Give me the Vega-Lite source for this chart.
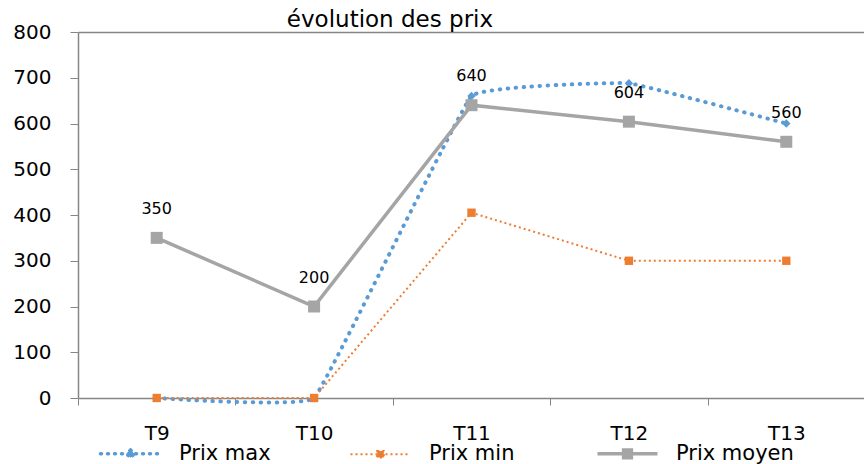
{
  "$schema": "https://vega.github.io/schema/vega-lite/v6.json",
  "autosize": {"type": "none"},
  "width": 787,
  "height": 366,
  "padding": {"left": 78, "top": 32, "right": 0, "bottom": 66},
  "background": "white",
  "config": {
    "font": "DejaVu Sans",
    "view": {"stroke": null},
    "axis": {"labelColor": "black", "domainColor": "#868686", "tickColor": "#868686", "labelFont": "DejaVu Sans"}
  },
  "title": {
    "text": "évolution des prix",
    "anchor": "start",
    "dx": 274,
    "dy": 31,
    "fontSize": 23,
    "fontWeight": "normal",
    "color": "black",
    "font": "DejaVu Sans",
    "baseline": "alphabetic",
    "offset": 3
  },
  "data": {
    "values": [
      {"t": "T9", "serie": "Prix max", "v": 0},
      {"t": "T10", "serie": "Prix max", "v": 0},
      {"t": "T11", "serie": "Prix max", "v": 660},
      {"t": "T12", "serie": "Prix max", "v": 688},
      {"t": "T13", "serie": "Prix max", "v": 600},
      {"t": "T9", "serie": "Prix min", "v": 0},
      {"t": "T10", "serie": "Prix min", "v": 0},
      {"t": "T11", "serie": "Prix min", "v": 405},
      {"t": "T12", "serie": "Prix min", "v": 300},
      {"t": "T13", "serie": "Prix min", "v": 300},
      {"t": "T9", "serie": "Prix moyen", "v": 350},
      {"t": "T10", "serie": "Prix moyen", "v": 200},
      {"t": "T11", "serie": "Prix moyen", "v": 640},
      {"t": "T12", "serie": "Prix moyen", "v": 604},
      {"t": "T13", "serie": "Prix moyen", "v": 560}
    ]
  },
  "encoding": {
    "x": {
      "field": "t", "type": "nominal", "sort": ["T9", "T10", "T11", "T12", "T13"],
      "scale": {"type": "band", "paddingInner": 0, "paddingOuter": 0},
      "axis": {"title": null, "labelAngle": 0, "tickBand": "extent", "tickSize": 7, "labelFontSize": 20, "labelPadding": 18, "domainWidth": 1.5}
    },
    "y": {
      "field": "v", "type": "quantitative",
      "scale": {"domain": [0, 800], "nice": false},
      "axis": {
        "title": null, "values": [0, 100, 200, 300, 400, 500, 600, 700, 800],
        "labelFontSize": 20, "tickSize": 8, "labelPadding": 19, "domainWidth": 1.5,
        "grid": true,
        "gridColor": {"condition": {"test": "datum.value === 800", "value": "#868686"}, "value": "transparent"},
        "gridWidth": 1.5
      }
    },
    "color": {
      "field": "serie", "type": "nominal",
      "scale": {"domain": ["Prix max", "Prix min", "Prix moyen"], "range": ["#5B9BD5", "#ED7D31", "#A5A5A5"]},
      "legend": {
        "title": null, "orient": "none", "legendX": 42, "legendY": 411,
        "direction": "horizontal", "gridAlign": "each", "columnPadding": 75,
        "labelFontSize": 21, "labelColor": "black", "labelOffset": 38,
        "symbolSize": 3600, "symbolStrokeWidth": 3,
        "encode": {
          "symbols": {
            "update": {
              "shape": {"signal": "datum.value === 'Prix max' ? 'M-1,0H1M0,-0.13L0.13,0L0,0.13L-0.13,0Z' : datum.value === 'Prix min' ? 'M-1,0H1M-0.11,-0.11H0.11V0.11H-0.11Z' : 'M-1,0H1M-0.13,-0.13H0.13V0.13H-0.13Z'"},
              "fill": {"scale": "color", "field": "value"},
              "strokeDash": {"signal": "datum.value === 'Prix max' ? [1, 6] : datum.value === 'Prix min' ? [2, 3] : [1, 0]"},
              "strokeCap": {"signal": "datum.value === 'Prix max' ? 'round' : 'butt'"},
              "strokeWidth": {"signal": "datum.value === 'Prix min' ? 2 : 3.5"}
            }
          }
        }
      }
    }
  },
  "layer": [
    {
      "transform": [{"filter": "datum.serie === 'Prix max'"}],
      "mark": {"type": "line", "interpolate": "cardinal", "tension": 0.8, "strokeDash": [0.5, 7.5], "strokeCap": "round", "strokeWidth": 4,
               "point": {"shape": "diamond", "filled": true, "size": 70, "opacity": 1}}
    },
    {
      "transform": [{"filter": "datum.serie === 'Prix min'"}],
      "mark": {"type": "line", "strokeDash": [2, 3], "strokeWidth": 2,
               "point": {"shape": "square", "filled": true, "size": 70, "opacity": 1}}
    },
    {
      "transform": [{"filter": "datum.serie === 'Prix moyen'"}],
      "mark": {"type": "line", "strokeWidth": 3.5,
               "point": {"shape": "square", "filled": true, "size": 144, "opacity": 1}}
    },
    {
      "transform": [{"filter": "datum.serie === 'Prix moyen'"}],
      "mark": {"type": "text", "dy": -29, "fontSize": 16, "color": "black", "baseline": "middle", "font": "DejaVu Sans"},
      "encoding": {"text": {"field": "v", "type": "quantitative"}, "color": {"value": "black"}}
    }
  ]
}
